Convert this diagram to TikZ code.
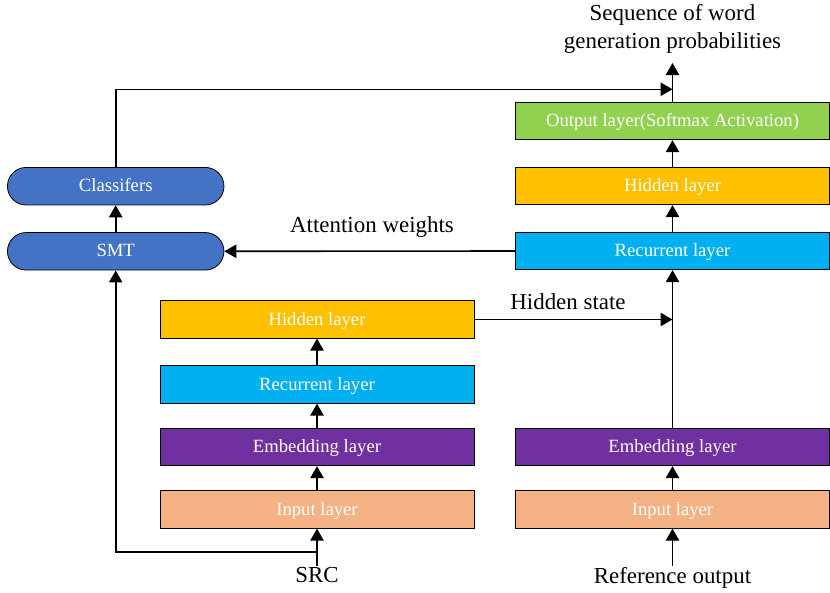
\documentclass[tikz,border=0pt]{standalone}
\usepackage{fontspec}
\setmainfont{Liberation Serif}
\usetikzlibrary{arrows.meta}

\definecolor{hidcol}{HTML}{FFC000}
\definecolor{reccol}{HTML}{00B0F0}
\definecolor{embcol}{HTML}{7030A0}
\definecolor{inpcol}{HTML}{F4B183}
\definecolor{outcol}{HTML}{92D050}
\definecolor{smtcol}{HTML}{4472C4}

\tikzset{
  layer/.style={draw=black, line width=0.6pt, minimum width=314*0.75pt, minimum height=37.5*0.75pt,
    inner sep=0pt, text height=0.85em, text depth=0pt, text=white, font=\fontsize{14}{16}\selectfont},
  pill/.style={layer, rounded corners=14pt, minimum width=216.5*0.75pt, fill=smtcol},
  arr/.style={line width=1.2pt, -{Triangle[length=9pt,width=10pt]}},
  lbl/.style={inner sep=0.75pt, align=center, font=\fontsize{17.2}{21}\selectfont}
}

\begin{document}
\begin{tikzpicture}[x=0.75pt,y=0.75pt,yscale=-1]
	\useasboundingbox (0,0) rectangle (830,592);
	
	%Encoder side
	\node [layer, fill=inpcol] (inL) at (317,509.5) {Input layer};
	\node [layer, fill=embcol] (embL) at (317,447) {Embedding layer};
	\node [layer, fill=reccol] (recL) at (317,384.5) {Recurrent layer};
	\node [layer, fill=hidcol] (hidL) at (317,319.5) {Hidden layer};
	
	%Decoder side
	\node [layer, fill=inpcol] (inR) at (672.5,509.5) {Input layer};
	\node [layer, fill=embcol] (embR) at (672.5,447) {Embedding layer};
	\node [layer, fill=reccol] (recR) at (672.5,251) {Recurrent layer};
	\node [layer, fill=hidcol] (hidR) at (672.5,186) {Hidden layer};
	\node [layer, fill=outcol] (outR) at (672.5,121) {Output layer(Softmax Activation)};
	
	%SMT blocks
	\node [pill] (smt) at (115.7,251.3) {SMT};
	\node [pill] (cls) at (115.7,186.2) {Classifers};
	
	% Text Node
	\node [lbl, anchor=north] (src) at (317,566) {SRC};
	\node [lbl, anchor=north] (ref) at (672.5,566) {Reference output};
	\node [lbl] (seq) at (672.5,29) {Sequence of word\\generation probabilities};
	\node [lbl] (attn) at (372,227) {Attention weights};
	\node [lbl] (hstate) at (568,302) {Hidden state};
	
	\coordinate (srcjoin) at (317,552);
	\coordinate (seqtip) at (672.5,63);
	\coordinate (clsturn) at (672.5,89.3);
	
	%Straight Lines
	\draw [arr] (src.north) -- (inL.south);
	\draw [arr] (srcjoin) -| (smt.south);
	\draw [arr] (inL) -- (embL);
	\draw [arr] (embL) -- (recL);
	\draw [arr] (recL) -- (hidL);
	\draw [arr] (hidL.east) -- (hidL.east -| embR.north);
	
	\draw [arr] (ref.north) -- (inR.south);
	\draw [arr] (inR) -- (embR);
	\draw [arr] (embR) -- (recR);
	\draw [arr] (recR) -- (hidR);
	\draw [arr] (hidR) -- (outR);
	\draw [arr] (outR.north) -- (seqtip);
	
	\draw [arr] (recR.west) -- (smt.east);
	\draw [arr] (smt) -- (cls);
	\draw [arr] (cls.north) |- (clsturn);
\end{tikzpicture}
\end{document}
